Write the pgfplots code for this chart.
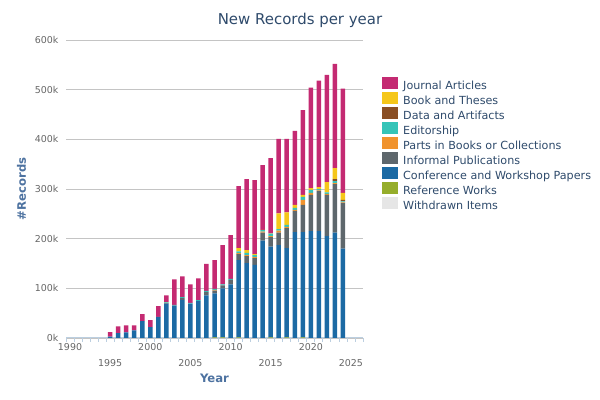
\documentclass[border=0pt]{standalone}
\usepackage{pgfplots}
\pgfplotsset{compat=1.18}
\usepackage{pgfplotstable}
\usepackage{fontspec}
\setmainfont{DejaVu Sans}

\definecolor{cJour}{HTML}{C42A72}
\definecolor{cBook}{HTML}{F5C71A}
\definecolor{cData}{HTML}{8A4F24}
\definecolor{cEdit}{HTML}{35C4B8}
\definecolor{cPart}{HTML}{F0932E}
\definecolor{cInfo}{HTML}{5E676C}
\definecolor{cConf}{HTML}{1C6AA4}
\definecolor{cRefw}{HTML}{95AD2B}
\definecolor{cWith}{HTML}{E6E6E6}
\definecolor{titlecol}{HTML}{2E4A6B}
\definecolor{labelcol}{HTML}{4D72A0}
\definecolor{tickcol}{HTML}{666666}
\definecolor{gridcol}{HTML}{C4C4C4}
\definecolor{axiscol}{HTML}{BCCFE0}

% values in thousands of records
\pgfplotstableread{
year W R C I P E D B J
1995 0 0 3 0 0 0 0 0 9
1996 0 0 10 0 0 0 0 0 13.5
1997 0 0 11.5 0 0 0 0 0 14
1998 0 0 15.5 0 0 0 0 0 10
1999 0 0 34 0 0 0 0 0 14
2000 0 0 22 0 0 0 0 0 14
2001 0 0 42 0 0 0.5 0 0 21.5
2002 0 0 69 1 0 1.5 0 0.5 14
2003 0 0 65 0.5 0 1 0 0 51.5
2004 0 0 77 4 0 1.5 0 0 41.5
2005 0 0 69 0 0 1.5 0 0 37.5
2006 0 0 75 0 0 1.5 0 0 43.5
2007 0 0 86 7 0 2 0 0 54
2008 0 1.5 88.5 5.5 1.5 2 0 0 58
2009 0 1.5 98.5 6 0 2 0 0 79
2010 0 0 108 9 0 2 0 0 88
2011 0 1.5 155.5 12 2 3.5 0 6.5 125
2012 0 0 151 14 2 4.5 0 5.5 143
2013 0 0 147 14 2.5 3.5 0 2 149
2014 0 0 196 16 2 3 0 0.5 130.5
2015 0 1.5 182.5 19 2 5 0 0.5 151.5
2016 0 0 187 25 4 3 0 32 150
2017 0 1.5 179.5 40 2.5 4.5 0 25 148
2018 0 0 213 43 2 4 0 6 149
2019 0 1.5 211.5 55 10 6 0 4 171
2020 0 0 215 73 4 6 0 4 202
2021 0 0 215 81 1 3 0 4 214
2022 0 0 205 83 2 3 0 21 216
2023 0 0 212 98 2 4 4 22 210
2024 0 0 180 92 1 2 3 14 210
}\records

\begin{document}
\begin{tikzpicture}
\useasboundingbox (0,0) rectangle (600bp,400bp);
\begin{axis}[
  at={(66bp,62bp)}, anchor=south west,
  scale only axis, width=297bp, height=298bp,
  ybar stacked, bar width=4.5bp,
  xmin=1989.5, xmax=2026.5, ymin=0, ymax=600,
  axis lines*=left,
  x axis line style={color=axiscol, line width=1bp},
  y axis line style={draw=none},
  xtick={1990,2000,2010,2020},
  extra x ticks={1995,2005,2015,2025},
  extra x tick style={xticklabel style={yshift=-16bp}},
  minor xtick={1989.5,1990.5,...,2026.5},
  major tick length=0pt, minor tick length=4bp, tick align=outside,
  minor tick style={color=axiscol, line width=0.8bp},
  ytick={0,100,...,600},
  yticklabel={\pgfmathprintnumber{\tick}k},
  ymajorgrids, grid style={color=gridcol, line width=0.8bp},
  tick label style={font=\fontsize{9.5}{11}\selectfont, color=tickcol,
    /pgf/number format/1000 sep={}, /pgf/number format/assume math mode=true},
  yticklabel style={xshift=-4bp},
  xticklabel style={yshift=-1.5bp},
  xlabel={Year}, ylabel={\#Records},
  label style={font=\fontsize{11.7}{13}\selectfont\bfseries, color=labelcol},
  xlabel style={at={(axis description cs:0.5,-0.134)}, anchor=center},
  ylabel style={at={(axis description cs:-0.15,0.5)}, anchor=center},
  legend style={at={(axis description cs:1.064,0.876)}, anchor=north west,
    draw=none, fill=none, inner sep=0pt, row sep=0pt, column sep=5bp,
    font=\fontsize{11.2}{13}\selectfont, text=titlecol,
    nodes={inner sep=0pt, text height=8.5bp, text depth=2.5bp}},
  legend cell align=left,
  reverse legend,
  legend image code/.code={\fill[#1] (0bp,-2bp) rectangle (16bp,9.5bp);},
  every axis plot/.append style={draw=none},
]
\addplot[fill=cWith] table[x=year,y=W]{\records};
\addplot[fill=cRefw] table[x=year,y=R]{\records};
\addplot[fill=cConf] table[x=year,y=C]{\records};
\addplot[fill=cInfo] table[x=year,y=I]{\records};
\addplot[fill=cPart] table[x=year,y=P]{\records};
\addplot[fill=cEdit] table[x=year,y=E]{\records};
\addplot[fill=cData] table[x=year,y=D]{\records};
\addplot[fill=cBook] table[x=year,y=B]{\records};
\addplot[fill=cJour] table[x=year,y=J]{\records};
\legend{Withdrawn Items,Reference Works,Conference and Workshop Papers,Informal Publications,Parts in Books or Collections,Editorship,Data and Artifacts,Book and Theses,Journal Articles}
\end{axis}
\node[font=\fontsize{15}{17}\selectfont, text=titlecol] at (300bp,380bp) {New Records per year};
\end{tikzpicture}
\end{document}
